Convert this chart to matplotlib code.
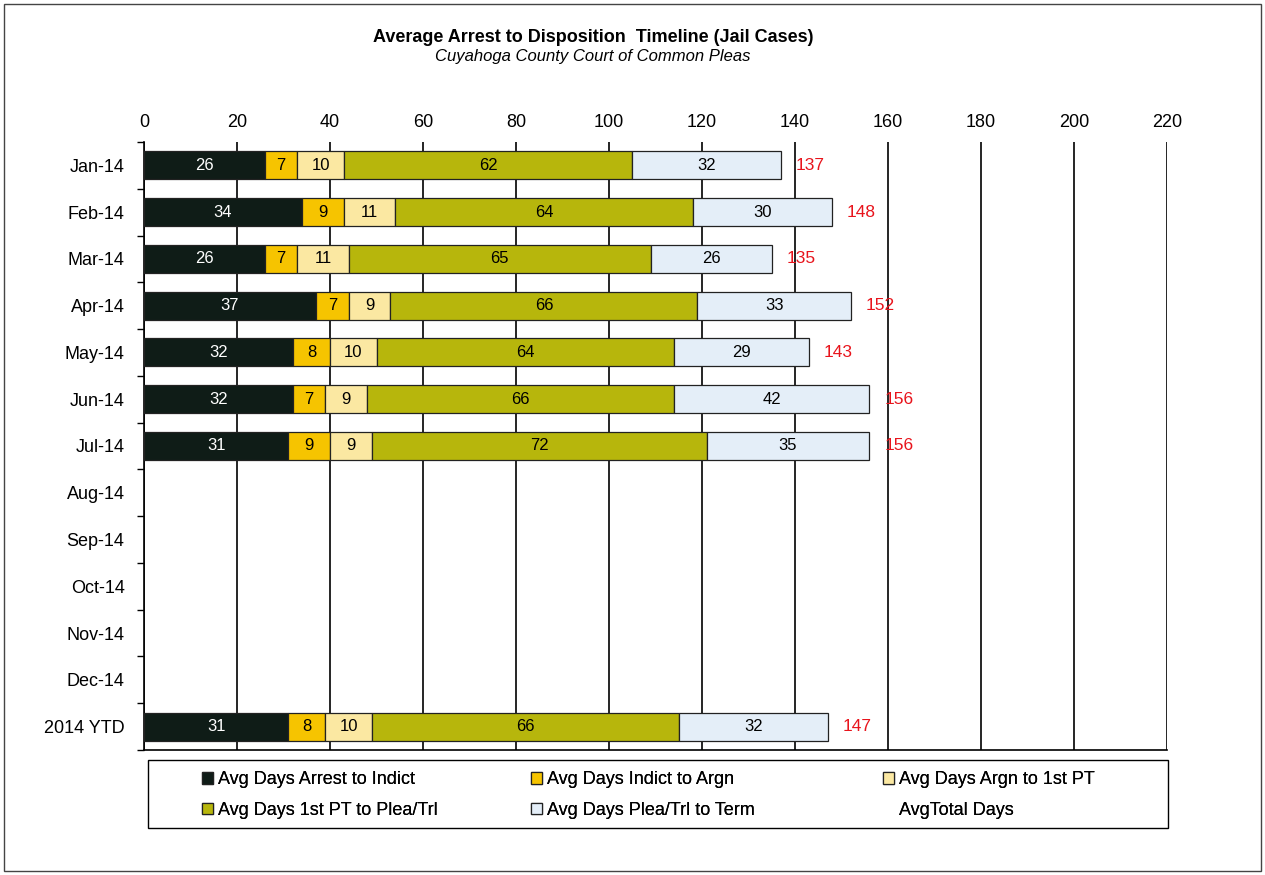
import matplotlib
matplotlib.use("Agg")
import matplotlib.pyplot as plt
import matplotlib.patches as mpatches
import numpy as np

plt.rcParams['font.family'] = ['Liberation Sans', 'DejaVu Sans']

categories = ["Jan-14", "Feb-14", "Mar-14", "Apr-14", "May-14", "Jun-14", "Jul-14",
              "Aug-14", "Sep-14", "Oct-14", "Nov-14", "Dec-14", "2014 YTD"]
nan = np.nan
arrest_to_indict = [26, 34, 26, 37, 32, 32, 31, nan, nan, nan, nan, nan, 31]
indict_to_argn = [7, 9, 7, 7, 8, 7, 9, nan, nan, nan, nan, nan, 8]
argn_to_1stpt = [10, 11, 11, 9, 10, 9, 9, nan, nan, nan, nan, nan, 10]
pt_to_plea = [62, 64, 65, 66, 64, 66, 72, nan, nan, nan, nan, nan, 66]
plea_to_term = [32, 30, 26, 33, 29, 42, 35, nan, nan, nan, nan, nan, 32]
total_days = [137, 148, 135, 152, 143, 156, 156, nan, nan, nan, nan, nan, 147]

series_names = ["Avg Days Arrest to Indict", "Avg Days Indict to Argn", "Avg Days Argn to 1st PT",
                "Avg Days 1st PT to Plea/Trl", "Avg Days Plea/Trl to Term"]
series = [arrest_to_indict, indict_to_argn, argn_to_1stpt, pt_to_plea, plea_to_term]
colors = ["#0f1c17", "#f6c400", "#fbe8a2", "#b7b60c", "#e4eef8"]
text_colors = ["white", "black", "black", "black", "black"]

fig = plt.figure(figsize=(12.65, 8.75), dpi=100)
ax = fig.add_axes([144/1265, 1-750/875, (1167-144)/1265, (750-142)/875])

y = np.arange(len(categories))
left = np.zeros(len(categories))
handles = []
for vals, name, c, tc in zip(series, series_names, colors, text_colors):
    v = np.array(vals, dtype=float)
    mask = ~np.isnan(v)
    bars = ax.barh(y[mask], v[mask], left=left[mask], height=0.6, color=c, edgecolor="#222222",
                   linewidth=0.9, label=name, zorder=3)
    for i, val in enumerate(v):
        if not np.isnan(val):
            ax.text(left[i] + val/2, y[i], f"{int(val)}", ha="center", va="center",
                    color=tc, fontsize=12, zorder=4)
    left = left + np.nan_to_num(v)
    handles.append(bars)

for i, t in enumerate(total_days):
    if not np.isnan(t):
        ax.text(t + 3.2, y[i], f"{int(t)}", ha="left", va="center", color="#e8141c",
                fontsize=12.5, zorder=5)

ax.set_xlim(0, 220)
ax.set_ylim(len(categories) - 0.5, -0.5)
ax.set_xticks(np.arange(0, 221, 20))
ax.xaxis.tick_top()
ax.tick_params(axis="x", length=0, labelsize=13, pad=8)
ax.set_yticks(y)
ax.set_yticklabels(categories, fontsize=13)
ax.tick_params(axis="y", length=0, pad=14)
ax.set_yticks(np.arange(-0.5, len(categories), 1), minor=True)
ax.tick_params(axis="y", which="minor", length=5, direction="out", width=1)
ax.xaxis.grid(True, color="black", linewidth=1.2, zorder=0)
ax.set_axisbelow(True)
for s in ["top", "right"]:
    ax.spines[s].set_visible(False)
ax.spines["left"].set_linewidth(1.2)
ax.spines["bottom"].set_linewidth(1.2)

fig.text(593/1265, 1-37/875, "Average Arrest to Disposition  Timeline (Jail Cases)", ha="center",
         va="center", fontsize=13, fontweight="bold")
fig.text(593/1265, 1-57/875, "Cuyahoga County Court of Common Pleas", ha="center", va="center",
         fontsize=12, style="italic")

total_handle = mpatches.Patch(facecolor="none", edgecolor="none", label="AvgTotal Days")
h = handles
columns = [
    ([h[0], h[3]], [series_names[0], series_names[3]], 202),
    ([h[1], h[4]], [series_names[1], series_names[4]], 531),
    ([h[2], total_handle], [series_names[2], "AvgTotal Days"], 883),
]
for hs, ls, xpix in columns:
    leg = fig.legend(hs, ls, loc="center left", bbox_to_anchor=(xpix/1265, 1-795/875),
                     fontsize=13, frameon=False, handlelength=0.6, handleheight=0.6,
                     handletextpad=0.3, borderpad=0.0, borderaxespad=0.0, labelspacing=0.75)
    fig.add_artist(leg)

fig.patches.append(mpatches.Rectangle((148/1265, 1-828/875), (1168-148)/1265, (828-760)/875,
                                      transform=fig.transFigure, fill=False, edgecolor="black",
                                      linewidth=1.0))
fig.patches.append(mpatches.Rectangle((4/1265, 4/875), 1257/1265, 867/875, transform=fig.transFigure,
                                      fill=False, edgecolor="#444444", linewidth=1))

fig.savefig("out.png", dpi=100)
